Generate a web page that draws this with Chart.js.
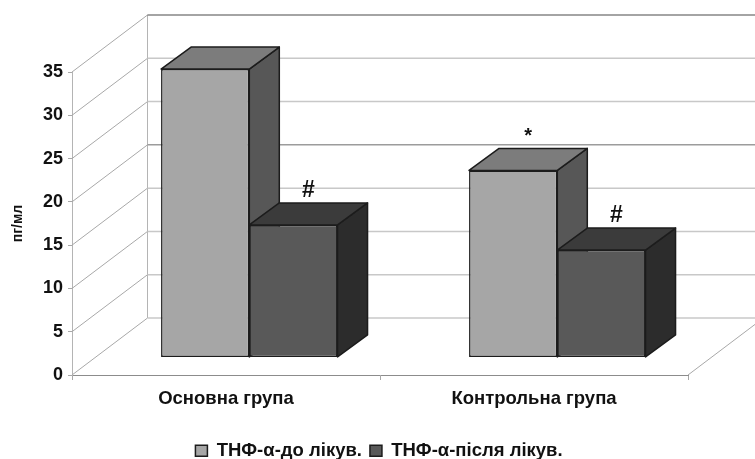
<!DOCTYPE html>
<html>
<head>
<meta charset="utf-8">
<script src="https://cdn.jsdelivr.net/npm/chart.js@4"></script>
<style>
html, body { margin: 0; padding: 0; background: #fff; }
canvas { display: block; }
</style>
</head>
<body>
<canvas id="chart" width="755" height="459"></canvas>
<script>
const categories = ["Основна група", "Контрольна група"];
const seriesNames = ["ТНФ-α-до лікув.", "ТНФ-α-після лікув."];
const before = [33.3, 21.6];
const after = [15.3, 12.4];
const beforeMarks = ["", "*"];
const afterMarks = ["#", "#"];

const FONT = "'Liberation Sans', Arial, sans-serif";
const wallDepth = { x: 75.5, y: -57 };   // floor depth of the 3d box
const barShift = { x: 23.3, y: -17.6 };  // bars stand inside the floor
const barDepth = { x: 30, y: -22 };
const topColors = ["#7c7c7c", "#3b3b3b"];
const sideColors = ["#575757", "#2c2c2c"];
const edge = "#1c1c1c";

function face(ctx, pts, fill) {
    ctx.beginPath();
    pts.forEach((p, i) => i ? ctx.lineTo(p[0], p[1]) : ctx.moveTo(p[0], p[1]));
    ctx.closePath();
    ctx.fillStyle = fill;
    ctx.fill();
    ctx.lineWidth = 1.5;
    ctx.lineJoin = "round";
    ctx.strokeStyle = edge;
    ctx.stroke();
}

const box3d = {
    id: "box3d",
    afterLayout(chart) {
        // legend is centred on the whole picture, not on the padded box
        const lg = chart.legend;
        lg.left += 35;
        lg.right += 35;
        lg.top += 11;
        lg.bottom += 11;
    },
    beforeDatasetsDraw(chart) {
        const { ctx, scales: { x, y }, chartArea: a } = chart;
        const line = (x1, y1, x2, y2, col, w) => {
            ctx.beginPath();
            ctx.moveTo(x1, y1);
            ctx.lineTo(x2, y2);
            ctx.strokeStyle = col;
            ctx.lineWidth = w;
            ctx.stroke();
        };
        ctx.save();
        const backL = a.left + wallDepth.x;
        const backR = a.right + wallDepth.x;
        line(backL, y.getPixelForValue(0) + wallDepth.y, backL, y.getPixelForValue(35) + wallDepth.y, "#b4b4b4", 1);
        y.ticks.forEach(t => {
            const py = y.getPixelForValue(t.value);
            const by = py + wallDepth.y;
            line(a.left, py, backL, by, "#a8a8a8", 1);
            if (t.value === 35) line(backL, by, backR, by, "#4a4a4a", 1.2);
            else line(backL, by, backR, by, t.value === 20 ? "#9c9c9c" : "#c8c8c8", 1.5);
        });
        line(a.right, y.getPixelForValue(0), backR, y.getPixelForValue(0) + wallDepth.y, "#a8a8a8", 1);

        // top and side faces go first, the library paints the front faces over them
        [0, 1].forEach(ds => {
            chart.getDatasetMeta(ds).data.forEach(bar => {
                const l = bar.x - bar.width / 2 + barShift.x;
                const r = bar.x + bar.width / 2 + barShift.x;
                const t = bar.y + barShift.y;
                const b = bar.base + barShift.y;
                const dx = barDepth.x, dy = barDepth.y;
                face(ctx, [[r, t], [r + dx, t + dy], [r + dx, b + dy], [r, b]], sideColors[ds]);
                face(ctx, [[l, t], [l + dx, t + dy], [r + dx, t + dy], [r, t]], topColors[ds]);
            });
        });
        ctx.restore();
    },
    beforeDatasetDraw(chart) {
        chart.ctx.save();
        chart.ctx.translate(barShift.x, barShift.y);
    },
    afterDatasetDraw(chart) {
        chart.ctx.restore();
    },
    afterDatasetsDraw(chart) {
        const ctx = chart.ctx;
        const marks = [beforeMarks, afterMarks];
        ctx.save();
        ctx.textAlign = "center";
        ctx.textBaseline = "middle";
        ctx.fillStyle = "#111";
        marks.forEach((list, ds) => {
            chart.getDatasetMeta(ds).data.forEach((bar, i) => {
                if (!list[i]) return;
                const mx = bar.x + barShift.x + barDepth.x / 2;
                const my = bar.y + barShift.y + barDepth.y - 12;
                ctx.font = "bold " + (list[i] === "#" ? 23 : 20) + "px " + FONT;
                ctx.fillText(list[i], mx, my);
            });
        });
        ctx.restore();
    }
};

new Chart(document.getElementById("chart"), {
    type: "bar",
    data: {
        labels: categories,
        datasets: [
            { label: seriesNames[0], data: before, backgroundColor: "#a6a6a6", borderColor: edge, borderWidth: 1.5, borderSkipped: false },
            { label: seriesNames[1], data: after, backgroundColor: "#595959", borderColor: edge, borderWidth: 1.5, borderSkipped: false }
        ]
    },
    options: {
        responsive: false,
        animation: false,
        layout: { padding: { left: 0, right: 67, top: 72, bottom: 0 } },
        datasets: { bar: { categoryPercentage: 0.573, barPercentage: 1 } },
        plugins: {
            tooltip: { enabled: false },
            legend: {
                position: "bottom",
                labels: {
                    boxWidth: 12,
                    boxHeight: 11,
                    padding: 8,
                    color: "#111",
                    font: { family: FONT, size: 18.5, weight: "bold" }
                }
            }
        },
        scales: {
            x: {
                afterFit: s => { s.height = 47.5; },
                grid: { drawOnChartArea: false, color: "#a8a8a8", tickLength: 5 },
                border: { color: "#8c8c8c" },
                ticks: { color: "#111", padding: 8, maxRotation: 0, font: { family: FONT, size: 18.5, weight: "bold" } }
            },
            y: {
                min: 0,
                max: 35,
                afterFit: s => { s.width = 72; },
                title: { display: true, text: "пг/мл", color: "#111", padding: { top: 10, bottom: 0 }, font: { family: FONT, size: 14, weight: "bold" } },
                grid: { drawOnChartArea: false, color: "#a8a8a8", tickLength: 4 },
                border: { color: "#b4b4b4" },
                ticks: { stepSize: 5, color: "#111", padding: 5, font: { family: FONT, size: 18, weight: "bold" } }
            }
        }
    },
    plugins: [box3d]
});
</script>
</body>
</html>
